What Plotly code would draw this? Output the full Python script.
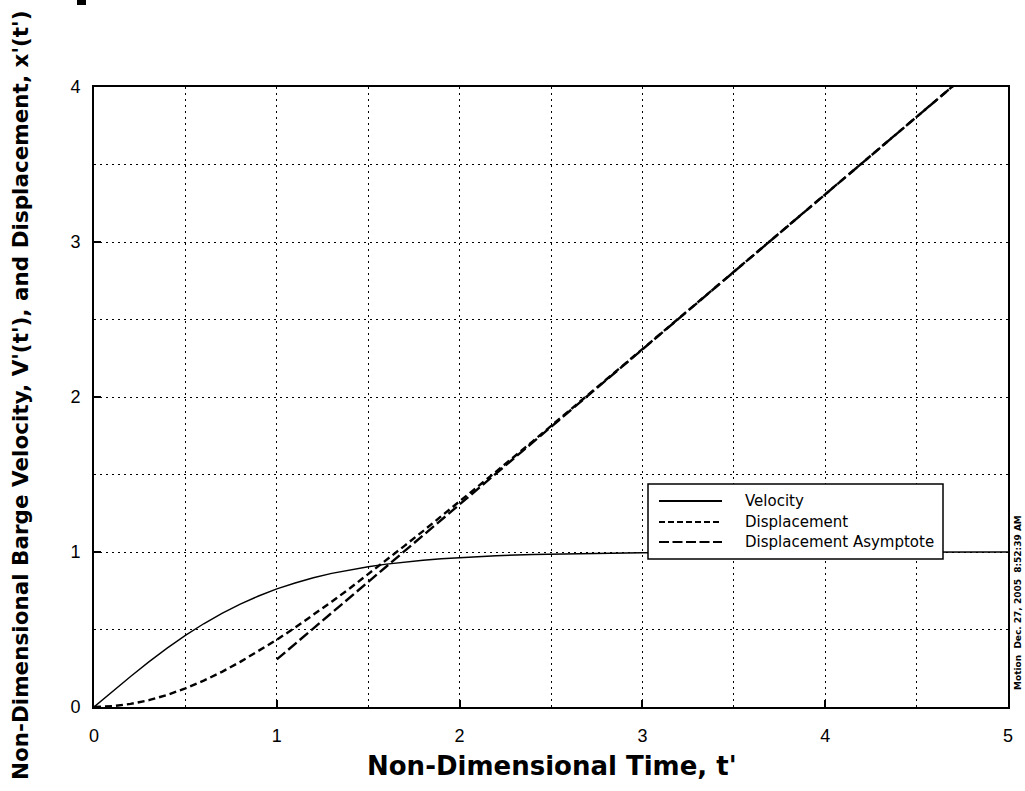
import plotly.graph_objects as go

# Non-dimensional time samples
t = [0.0, 0.1, 0.2, 0.3, 0.4, 0.5, 0.6, 0.7, 0.8, 0.9,
     1.0, 1.1, 1.2, 1.3, 1.4, 1.5, 1.6, 1.7, 1.8, 1.9,
     2.0, 2.2, 2.4, 2.6, 2.8, 3.0, 3.5, 4.0, 4.5, 5.0]

# Barge velocity V'(t')
velocity = [0.000, 0.100, 0.197, 0.291, 0.380, 0.462, 0.537, 0.604, 0.664, 0.716,
            0.762, 0.800, 0.834, 0.862, 0.885, 0.905, 0.922, 0.935, 0.947, 0.956,
            0.964, 0.976, 0.984, 0.989, 0.993, 0.995, 0.998, 0.999, 1.000, 1.000]

# Barge displacement x'(t')
displacement = [0.000, 0.005, 0.020, 0.044, 0.078, 0.120, 0.170, 0.227, 0.291, 0.360,
                0.434, 0.512, 0.594, 0.679, 0.766, 0.856, 0.948, 1.041, 1.135, 1.230,
                1.325, 1.519, 1.714, 1.911, 2.109, 2.309, 2.808, 3.307, 3.807, 4.307]

# Straight-line asymptote of the displacement
t_asym = [1.0, 5.0]
asymptote = [0.307, 4.307]

legend_labels = ["Velocity", "Displacement", "Displacement Asymptote"]
x_tick_labels = ["0", "1", "2", "3", "4", "5"]
y_tick_labels = ["0", "1", "2", "3", "4"]
stamp = "Motion  Dec. 27, 2005  8:52:39 AM"

# Plot-area geometry in page pixels
W, H = 1025, 791
L, R, T, B = 94, 1008, 87, 707


def px(x):
    return (x - L) / (R - L)


def py(y):
    return (B - y) / (B - T)


FONT = "DejaVu Sans, Liberation Sans, Arial, sans-serif"
TICK_FONT = "Liberation Sans, Arial, sans-serif"
DOT = "2px,4px"
SHORT = "7px,4px"
LONG = "11px,4px"

fig = go.Figure()
fig.add_trace(go.Scatter(x=t, y=velocity, mode="lines",
                         line=dict(color="black", width=1.4), showlegend=False))
fig.add_trace(go.Scatter(x=t, y=displacement, mode="lines",
                         line=dict(color="black", width=2.4, dash=SHORT), showlegend=False))
fig.add_trace(go.Scatter(x=t_asym, y=asymptote, mode="lines",
                         line=dict(color="black", width=2.4, dash=LONG), showlegend=False))

axis_common = dict(
    showline=True, linecolor="black", linewidth=2, mirror=True,
    ticks="inside", ticklen=7, tickwidth=1.5, tickcolor="black",
    showgrid=True, gridcolor="black", gridwidth=1, griddash=DOT,
    zeroline=False,
    tickfont=dict(family=TICK_FONT, size=18, color="black"),
    minor=dict(dtick=0.5, showgrid=True, gridcolor="black", gridwidth=1,
               griddash=DOT, ticks=""),
)

fig.update_layout(
    width=W, height=H,
    margin=dict(l=L, r=W - R, t=T, b=H - B, pad=0),
    paper_bgcolor="white", plot_bgcolor="white",
    showlegend=False,
    xaxis=dict(range=[0, 5], tickmode="array", tickvals=[0, 1, 2, 3, 4, 5],
               ticktext=x_tick_labels, ticklabelstandoff=11, **axis_common),
    yaxis=dict(range=[0, 4], tickmode="array", tickvals=[0, 1, 2, 3, 4],
               ticktext=y_tick_labels, ticklabelstandoff=8, **axis_common),
)

annotations = [
    dict(text="<b>Non-Dimensional Time, t'</b>", x=px(552), y=py(766),
         xref="paper", yref="paper", xanchor="center", yanchor="middle",
         showarrow=False, font=dict(family=FONT, size=26, color="black")),
    dict(text="<b>Non-Dimensional Barge Velocity, V'(t'), and Displacement, x'(t')</b>",
         x=px(20), y=py(395), xref="paper", yref="paper", textangle=-90,
         xanchor="center", yanchor="middle", showarrow=False,
         font=dict(family=FONT, size=21.5, color="black")),
    dict(text="<b>" + stamp + "</b>", x=px(1018), y=py(603),
         xref="paper", yref="paper", textangle=-90,
         xanchor="center", yanchor="middle", showarrow=False,
         font=dict(family=FONT, size=9, color="black")),
]

# Legend drawn as a framed box with line samples
shapes = [
    dict(type="rect", xref="paper", yref="paper", layer="above",
         x0=px(648), x1=px(943), y0=py(559), y1=py(484),
         line=dict(color="black", width=1.5), fillcolor="white"),
    dict(type="rect", xref="paper", yref="paper", layer="above",
         x0=px(77), x1=px(86), y0=py(5), y1=py(0),
         line=dict(width=0), fillcolor="black"),
]
row_y = [501, 522, 542]
row_style = [dict(width=2.2, dash="solid"), dict(width=2, dash="6px,3px"),
             dict(width=2.2, dash="10px,3.5px")]
for label, yy, st in zip(legend_labels, row_y, row_style):
    shapes.append(dict(type="line", xref="paper", yref="paper", layer="above",
                       x0=px(659), x1=px(722), y0=py(yy), y1=py(yy),
                       line=dict(color="black", **st)))
    annotations.append(dict(text=label, x=px(743), y=py(yy), xref="paper", yref="paper",
                            xanchor="left", yanchor="middle", showarrow=False,
                            font=dict(family=FONT, size=15, color="black")))

fig.update_layout(shapes=shapes, annotations=annotations)
fig.write_html("out.html")
